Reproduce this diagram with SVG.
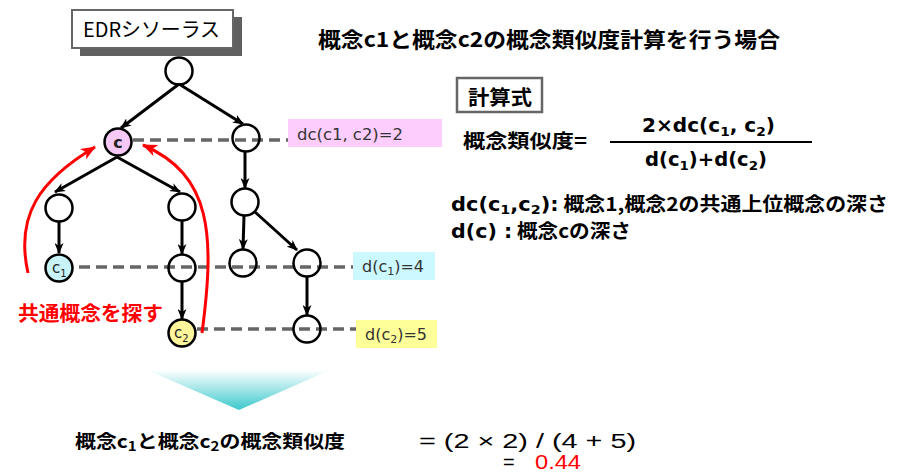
<svg xmlns="http://www.w3.org/2000/svg" width="903" height="473" viewBox="0 0 903 473">
<style>
.node{stroke:#000;stroke-width:2.5;fill:none}
.edge{stroke:#000;stroke-width:3;fill:none;marker-end:url(#ah)}
.dash{stroke:#666;stroke-width:3.5;stroke-dasharray:11 6;fill:none}
.red{stroke:#f00;stroke-width:3;fill:none;marker-end:url(#rh)}
.jb{font-family:"Noto Sans CJK JP","DejaVu Sans",sans-serif;font-weight:bold}
.lat{font-family:"DejaVu Sans","Noto Sans CJK JP",sans-serif}
.lbl{font-family:"DejaVu Sans",sans-serif;font-size:16px;fill:#333}
</style>
<defs>
<marker id="ah" markerUnits="userSpaceOnUse" markerWidth="11" markerHeight="9" refX="10" refY="4.5" orient="auto"><path d="M0,0 L11,4.5 L0,9 L3,4.5 z" fill="#000"/></marker>
<marker id="rh" markerUnits="userSpaceOnUse" markerWidth="15" markerHeight="12" refX="14" refY="6" orient="auto"><path d="M0,0 L15,6 L0,12 L4,6 z" fill="#f00"/></marker>
<linearGradient id="tg" x1="0" y1="0" x2="0" y2="1"><stop offset="0" stop-color="#fff"/><stop offset="1" stop-color="#3cc8cc"/></linearGradient>
</defs>

<g id="title-box">
<rect x="80" y="17" width="162" height="39" fill="#606060"/>
<rect x="72" y="10" width="161" height="38" fill="#fff" stroke="#666" stroke-width="2"/>
<text x="83" y="37" font-family="Noto Sans CJK JP,sans-serif" font-size="20" textLength="137" lengthAdjust="spacingAndGlyphs">EDRシソーラス</text>
</g>

<text x="318" y="47" class="jb" font-size="21" textLength="462" lengthAdjust="spacingAndGlyphs">概念c1と概念c2の概念類似度計算を行う場合</text>

<g id="connectors">
<path class="edge" d="M179,84 L121,128"/>
<path class="edge" d="M179,84 L243,124"/>
<path class="edge" d="M117,157 L55,192"/>
<path class="edge" d="M117,157 L180,192"/>
<path class="edge" d="M59,222 L59,253"/>
<path class="edge" d="M182,221 L182,254"/>
<path class="edge" d="M182,282 L182,319"/>
<path class="edge" d="M245,152 L245,188"/>
<path class="edge" d="M244,216 L243,249"/>
<path class="edge" d="M255,212 L297,250"/>
<path class="edge" d="M307,277 L307,315"/>
<path class="dash" d="M133,140 H288"/>
<path class="dash" d="M79,267 H353"/>
<path class="dash" d="M197,329 H356"/>
<path class="red" d="M28,273 C15,215 40,180 95,147"/>
<path class="red" d="M202,333 C215,235 212,175 143,145"/>
</g>

<g id="root"><circle class="node" cx="179" cy="71" r="13.5"/></g>
<g id="c"><circle class="node" cx="118" cy="142" r="13.5" style="fill:#f5c8f5"/><text x="118" y="148" text-anchor="middle" class="lat" font-size="16" font-weight="bold" fill="#222">c</text></g>
<g id="n-r1"><circle class="node" cx="246" cy="138" r="13.5"/></g>
<g id="n-l2"><circle class="node" cx="59" cy="208" r="13.5"/></g>
<g id="n-m2"><circle class="node" cx="182" cy="207" r="13.5"/></g>
<g id="n-r2"><circle class="node" cx="245" cy="202" r="13.5"/></g>
<g id="c1"><circle class="node" cx="59" cy="268" r="13.5" style="fill:#c8f4f8"/><text x="52" y="273" class="lat" font-size="15" fill="#222">c<tspan font-size="10" dy="4">1</tspan></text></g>
<g id="n-m3"><circle class="node" cx="182" cy="268" r="13.5"/></g>
<g id="n-r3a"><circle class="node" cx="243" cy="263" r="13.5"/></g>
<g id="n-r3b"><circle class="node" cx="307" cy="263" r="13.5"/></g>
<g id="c2"><circle class="node" cx="182" cy="333" r="13.5" style="fill:#fff59a"/><text x="174" y="338" class="lat" font-size="15" fill="#222">c<tspan font-size="10" dy="4">2</tspan></text></g>
<g id="n-r4"><circle class="node" cx="307" cy="329" r="13.5"/></g>

<g id="label-dc">
<rect x="288" y="119" width="154" height="28" fill="#fdcdfd"/>
<text x="297" y="140" class="lbl" textLength="106" lengthAdjust="spacingAndGlyphs">dc(c1, c2)=2</text>
</g>
<g id="label-d1">
<rect x="353" y="252" width="82" height="28" fill="#ccf8ff"/>
<text x="362" y="272" class="lbl">d(c<tspan font-size="11" dy="3">1</tspan><tspan dy="-3">)=4</tspan></text>
</g>
<g id="label-d2">
<rect x="356" y="320" width="81" height="28" fill="#ffff99"/>
<text x="365" y="340" class="lbl">d(c<tspan font-size="11" dy="3">2</tspan><tspan dy="-3">)=5</tspan></text>
</g>

<text x="18" y="321" class="jb" font-size="20" fill="#f00" textLength="145" lengthAdjust="spacingAndGlyphs">共通概念を探す</text>

<g id="formula-box">
<rect x="457" y="78" width="85" height="34" fill="#fff" stroke="#666" stroke-width="2.5"/>
<text x="468" y="105" class="jb" font-size="20" textLength="64" lengthAdjust="spacingAndGlyphs">計算式</text>
</g>

<text x="463" y="148" class="jb" font-size="19" textLength="124" lengthAdjust="spacingAndGlyphs">概念類似度=</text>
<path d="M610,142 H812" stroke="#000" stroke-width="2"/>
<text x="642" y="132" class="lat" font-size="19" font-weight="bold" textLength="133" lengthAdjust="spacingAndGlyphs">2×dc(c<tspan font-size="13" dy="4">1</tspan><tspan dy="-4">, c</tspan><tspan font-size="13" dy="4">2</tspan><tspan dy="-4">)</tspan></text>
<text x="645" y="166" class="lat" font-size="19" font-weight="bold" textLength="122" lengthAdjust="spacingAndGlyphs">d(c<tspan font-size="13" dy="4">1</tspan><tspan dy="-4">)+d(c</tspan><tspan font-size="13" dy="4">2</tspan><tspan dy="-4">)</tspan></text>

<text x="451" y="211" class="jb" font-size="19" textLength="437" lengthAdjust="spacingAndGlyphs"><tspan class="lat" font-weight="bold">dc(c</tspan><tspan class="lat" font-size="13" dy="3">1</tspan><tspan class="lat" dy="-3">,c</tspan><tspan class="lat" font-size="13" dy="3">2</tspan><tspan class="lat" dy="-3">):</tspan> 概念1,概念2の共通上位概念の深さ</text>
<text x="451" y="238" class="jb" font-size="19" textLength="180" lengthAdjust="spacingAndGlyphs"><tspan class="lat">d(c) :</tspan> 概念cの深さ</text>

<polygon points="147,370 330,370 239,410" fill="url(#tg)"/>

<text x="75" y="448" class="jb" font-size="18" textLength="270" lengthAdjust="spacingAndGlyphs">概念c<tspan font-size="13" dy="3">1</tspan><tspan dy="-3">と概念c</tspan><tspan font-size="13" dy="3">2</tspan><tspan dy="-3">の概念類似度</tspan></text>
<text x="419" y="448" font-family="Liberation Sans,sans-serif" font-size="20" textLength="217" lengthAdjust="spacingAndGlyphs">=  (2 × 2) / (4 + 5)</text>
<text x="503" y="469" font-family="Liberation Sans,sans-serif" font-size="20">=</text>
<text x="535" y="469" font-family="Liberation Sans,sans-serif" font-size="20" fill="#f00" textLength="46" lengthAdjust="spacingAndGlyphs">0.44</text>
</svg>
